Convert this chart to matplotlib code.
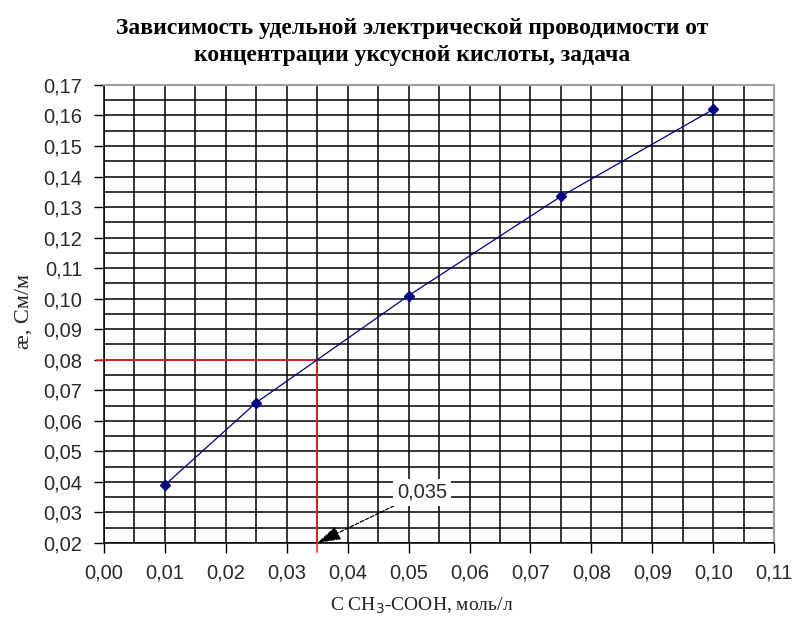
import matplotlib
matplotlib.use("Agg")
import matplotlib.pyplot as plt
from matplotlib.ticker import MultipleLocator, FuncFormatter

# Measured data
conc = [0.010, 0.025, 0.050, 0.075, 0.100]          # C, mol/L
kappa = [0.039, 0.066, 0.101, 0.1335, 0.162]        # specific conductivity, S/m

# Graphical solution for the task
target_kappa = 0.08
found_conc = 0.035
answer_label = "0,035"

title = "Зависимость удельной электрической проводимости от\nконцентрации уксусной кислоты, задача"
xlabel = "С СН$_3$-СООН, моль/л"
ylabel = "æ, См/м"

fig = plt.figure(figsize=(7.94, 6.19), dpi=100)
ax = fig.add_axes([0.131, 0.1228, 0.844, 0.740])

ax.set_xlim(0.0, 0.11)
ax.set_ylim(0.02, 0.17)

ax.xaxis.set_major_locator(MultipleLocator(0.01))
ax.xaxis.set_minor_locator(MultipleLocator(0.005))
ax.yaxis.set_major_locator(MultipleLocator(0.01))
ax.yaxis.set_minor_locator(MultipleLocator(0.005))

comma = FuncFormatter(lambda v, p: f"{v:.2f}".replace(".", ","))
ax.xaxis.set_major_formatter(comma)
ax.yaxis.set_major_formatter(comma)

ax.grid(True, which="both", color="black", linewidth=1.1)
ax.set_axisbelow(True)

ax.tick_params(axis="both", which="major", direction="out", length=7.5, width=1,
               labelsize=14.5, colors="black")
ax.tick_params(axis="x", which="major", pad=7)
ax.tick_params(axis="y", which="major", pad=8)
ax.tick_params(which="minor", length=0)
for lbl in ax.get_xticklabels() + ax.get_yticklabels():
    lbl.set_fontfamily("Liberation Sans")
    lbl.set_color("#2a2a2a")

for side in ("left", "bottom"):
    ax.spines[side].set_color("black")
    ax.spines[side].set_linewidth(1.1)
for side in ("top", "right"):
    ax.spines[side].set_color("#a0a0a0")
    ax.spines[side].set_linewidth(1.5)

# Red construction lines
ax.plot([-0.0012, found_conc], [target_kappa, target_kappa], color="#ff2020",
        linewidth=1.1, clip_on=False, zorder=3)
ax.plot([found_conc, found_conc], [0.0171, target_kappa], color="#ff2020",
        linewidth=1.1, clip_on=False, zorder=3)

ax.plot(conc, kappa, color="#000080", linewidth=0.9, marker="D", markersize=5.5,
        markerfacecolor="#000080", markeredgecolor="#000080", zorder=4)

ax.annotate(answer_label, xy=(found_conc, 0.02), xytext=(0.0522, 0.0366),
            fontsize=14.5, family="Liberation Sans", color="#2a2a2a",
            ha="center", va="center",
            bbox=dict(boxstyle="square,pad=0.2", fc="white", ec="none"),
            arrowprops=dict(arrowstyle="-|>,head_length=1.0,head_width=0.3",
                            color="black", linewidth=0.9, linestyle=(0, (3, 1.5)),
                            shrinkA=0, shrinkB=0),
            zorder=5)

fig.text(0.519, 0.932, title, ha="center", va="center", fontsize=17,
         fontweight="bold", family="Liberation Serif", linespacing=1.4)

ax.set_xlabel(xlabel, fontsize=14, family="Liberation Serif",
              ha="left", va="baseline", color="#222222")
ax.xaxis.set_label_coords((330 - 104) / 670, (543 - 611) / 458)
ax.set_ylabel(ylabel, fontsize=16, family="Liberation Serif", color="#222222")
ax.yaxis.set_label_coords((34 - 104) / 670, (543 - 312) / 458)

fig.savefig("out.png", dpi=100)
